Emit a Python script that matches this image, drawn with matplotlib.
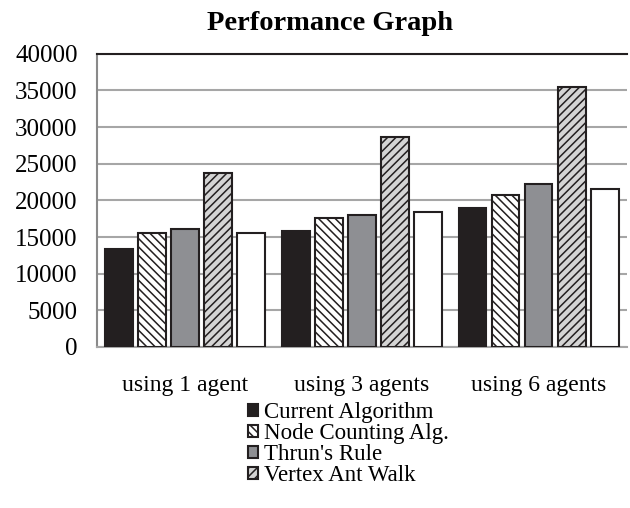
import numpy as np
import matplotlib.pyplot as plt

plt.rcParams['font.family'] = ['Liberation Serif', 'DejaVu Serif']
plt.rcParams['hatch.linewidth'] = 1.1

# data
categories = ['using 1 agent', 'using 3 agents', 'using 6 agents']
current_alg = [13350, 15800, 19000]
node_counting = [15550, 17550, 20750]
thrun_rule = [16050, 18000, 22250]
vertex_ant_walk = [23700, 28700, 35500]
fifth_series = [15550, 18450, 21500]

series = [current_alg, node_counting, thrun_rule, vertex_ant_walk, fifth_series]
names = ['Current Algorithm', 'Node Counting Alg.', "Thrun's Rule", 'Vertex Ant Walk', '_nolegend_']
fills = ['#231f20', 'white', '#8e8f93', '#d4d4d4', 'white']
hatches = [None, '\\\\\\\\', None, '////', None]

fig = plt.figure(figsize=(6.3, 5.08), dpi=100)
ax = fig.add_axes([0.154, 0.317, 0.841, 0.577])

x = np.arange(len(categories))
pitch = 0.187
width = 0.158
for i, vals in enumerate(series):
    ax.bar(x + (i - 2) * pitch, vals, width, color=fills[i], hatch=hatches[i],
           edgecolor='#231f20', linewidth=1.5, label=names[i], zorder=3)

ax.set_xlim(-0.5, 2.5)
ax.set_ylim(0, 40000)
ax.set_yticks(np.arange(0, 40001, 5000))
ax.set_xticks(x)
ax.set_xticklabels(categories)
ax.grid(axis='y', color='#a6a6a6', linewidth=1.5, zorder=0)
ax.tick_params(axis='both', length=0)
ax.tick_params(axis='x', pad=20, labelsize=17)
ax.tick_params(axis='y', pad=14, labelsize=18)

ax.spines['right'].set_visible(False)
ax.spines['top'].set_color('#231f20')
ax.spines['top'].set_linewidth(1.5)
ax.spines['left'].set_color('#8a8a8a')
ax.spines['left'].set_linewidth(1.5)
ax.spines['bottom'].set_color('#a6a6a6')
ax.spines['bottom'].set_linewidth(1.5)

fig.suptitle('Performance Graph', x=0.524, y=0.978, fontsize=20.5, fontweight='bold')

fig.legend(loc='center left', bbox_to_anchor=(0.375, 0.126), frameon=False,
           fontsize=16.5, handlelength=0.45, handleheight=0.45,
           handletextpad=0.25, labelspacing=0.0, borderpad=0)

fig.savefig('out.png', dpi=100)
